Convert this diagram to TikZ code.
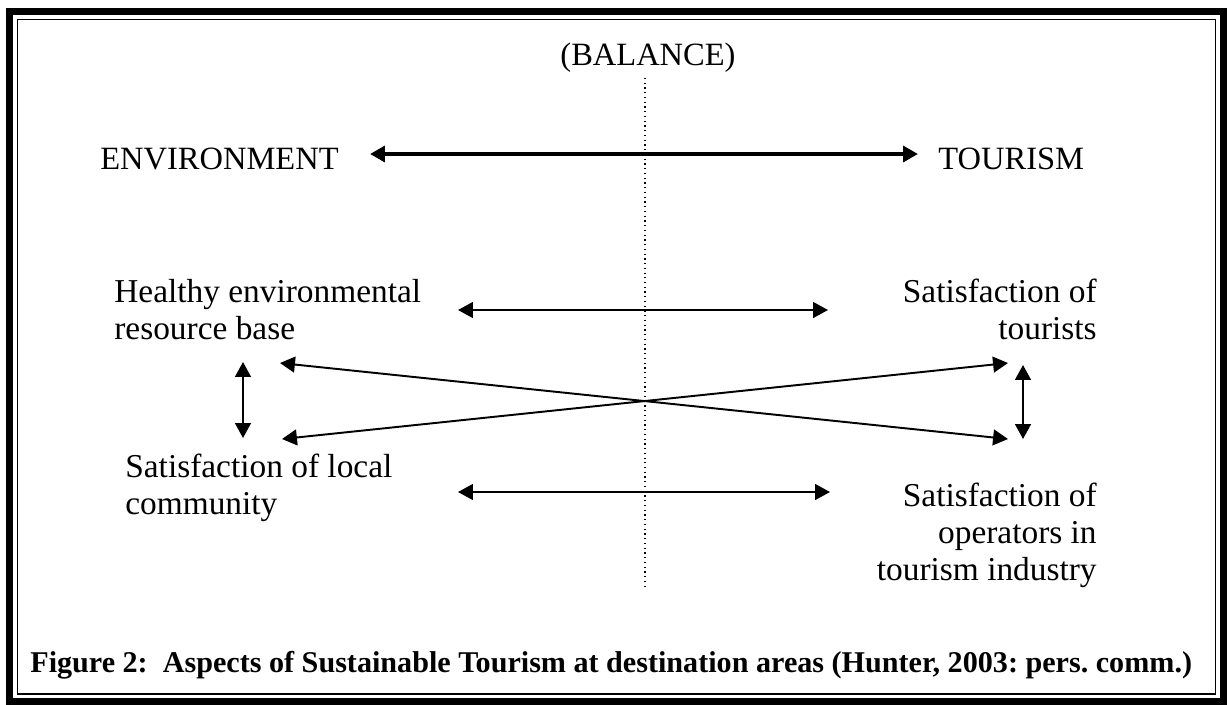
\documentclass[tikz,border=0pt]{standalone}
\usepackage{fontspec}
\setmainfont{Liberation Serif}
\usetikzlibrary{arrows.meta,
                positioning}
\tikzset{aspect/.style =
   {inner sep=0pt,
    font=\fontsize{19}{21}\selectfont}}
\tikzset{side/.style =
   {inner sep=0pt,
    font=\fontsize{18.5}{20.5}\selectfont}}
\tikzset{link/.style = {draw, line width=1.1pt,
   {Triangle[length=8.5pt,width=9pt]}-{Triangle[length=8.5pt,width=9pt]}}}
\tikzset{mainlink/.style = {link, line width=2.8pt}}

\begin{document}
\frenchspacing
\begin{tikzpicture}[x=0.02cm, y=-0.02cm]

    \useasboundingbox (0,0) rectangle (1227,704);
    \draw [line width=4pt]    (9.5,11.5) rectangle (1223,701);
    \draw [line width=0.85pt] (17.5,19.5) rectangle (1215.5,694);

    \node [side, anchor=base] (balance) at (648,65) {(BALANCE)};
    \coordinate (midtop) at (645,78);
    \coordinate (midbot) at (645,590);
    \draw [dotted, line width=0.7pt] (midtop) -- (midbot);

    \node [side, anchor=base west] (env)  at (100,169) {ENVIRONMENT};
    \node [side, anchor=base west] (tour) at (938,169) {TOURISM};
    \coordinate (envR)  at (370,154);
    \coordinate (tourL) at (918,154);
    \draw [mainlink] (envR) -- (tourL);

    \node [aspect, align=left, anchor=north west] (health) at (114,279)
     {Healthy environmental\\resource base};
    \node [aspect, align=right, anchor=north east] (tourists) at (1097,279)
     {Satisfaction of\\tourists};
    \node [aspect, align=left, anchor=north west] (community) at (125,454)
     {Satisfaction of local\\community};
    \node [aspect, align=right, anchor=north east] (operators) at (1097,483)
     {Satisfaction of\\operators in\\tourism industry};

    % arrow ends
    \coordinate (healthR)    at (458,310);
    \coordinate (touristsL)  at (828,310);
    \coordinate (communityR) at (458,492);
    \coordinate (operatorsL) at (830,492);
    \coordinate (leftup)     at (243,362);
    \coordinate (leftdown)   at (243,438);
    \coordinate (rightup)    at (1023,365);
    \coordinate (rightdown)  at (1023,439);
    \coordinate (crossLU)    at (280,363);
    \coordinate (crossLD)    at (282,439);
    \coordinate (crossRU)    at (1008,363);
    \coordinate (crossRD)    at (1008,439);

    \draw [link] (healthR) -- (touristsL);
    \draw [link] (communityR) -- (operatorsL);
    \draw [link] (leftup) -- (leftdown);
    \draw [link] (rightup) -- (rightdown);
    \draw [link] (crossLU) -- (crossRD);
    \draw [link] (crossLD) -- (crossRU);

    \node [anchor=base west, inner sep=0pt,
           font=\bfseries\fontsize{17.15}{19}\selectfont] (caption) at (30,672)
     {Figure 2:\ \ Aspects of Sustainable Tourism at destination areas (Hunter, 2003: pers. comm.)};

\end{tikzpicture}
\end{document}
